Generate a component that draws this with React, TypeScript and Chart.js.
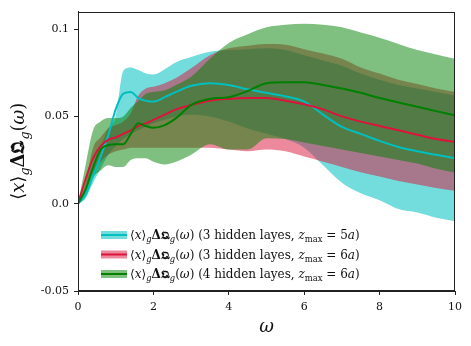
import { useEffect, useRef } from "react";
import { Chart, registerables } from "chart.js";
Chart.register(...registerables);

// omega grid
const omega = [0, 0.2, 0.4, 0.6, 0.8, 1.0, 1.2, 1.4, 1.6, 1.8, 2.0, 2.3, 2.6, 3.0, 3.5, 4.0, 4.5, 5.0, 5.5, 6.0, 6.5, 7.0, 7.5, 8.0, 8.5, 9.0, 9.5, 10];

// 3 hidden layers, zmax = 5a (cyan)
const cyanMean = [0, 0.005, 0.016, 0.027, 0.039, 0.054, 0.063, 0.064, 0.0605, 0.059, 0.0585, 0.061, 0.064, 0.0675, 0.069, 0.068, 0.0655, 0.0635, 0.0615, 0.0585, 0.051, 0.044, 0.04, 0.036, 0.0325, 0.03, 0.028, 0.026];
const cyanHigh = [0, 0.007, 0.02, 0.032, 0.043, 0.05, 0.076, 0.078, 0.0765, 0.0745, 0.074, 0.077, 0.081, 0.084, 0.087, 0.088, 0.0885, 0.089, 0.088, 0.085, 0.082, 0.079, 0.0745, 0.071, 0.068, 0.066, 0.064, 0.062];
const cyanLow = [0, 0.003, 0.012, 0.02, 0.028, 0.033, 0.037, 0.04, 0.042, 0.044, 0.046, 0.048, 0.05, 0.051, 0.05, 0.047, 0.043, 0.04, 0.037, 0.032, 0.022, 0.012, 0.006, 0.002, -0.003, -0.005, -0.008, -0.01];

// 3 hidden layers, zmax = 6a (crimson)
const redMean = [0, 0.014, 0.026, 0.033, 0.0365, 0.038, 0.04, 0.042, 0.0445, 0.046, 0.048, 0.051, 0.054, 0.0565, 0.059, 0.06, 0.0605, 0.0605, 0.059, 0.057, 0.054, 0.05, 0.047, 0.0445, 0.042, 0.0395, 0.037, 0.0354];
const redHigh = [0, 0.012, 0.032, 0.038, 0.043, 0.045, 0.047, 0.052, 0.062, 0.066, 0.067, 0.069, 0.072, 0.0775, 0.085, 0.089, 0.0905, 0.0915, 0.091, 0.0885, 0.086, 0.083, 0.078, 0.0745, 0.071, 0.0685, 0.066, 0.064];
const redLow = [0, 0.008, 0.018, 0.024, 0.028, 0.03, 0.031, 0.032, 0.032, 0.032, 0.032, 0.032, 0.032, 0.032, 0.032, 0.031, 0.03, 0.031, 0.03, 0.027, 0.024, 0.021, 0.018, 0.0155, 0.013, 0.011, 0.009, 0.0074];

// 4 hidden layers, zmax = 6a (green)
const greenMean = [0, 0.008, 0.021, 0.031, 0.0335, 0.034, 0.034, 0.04, 0.046, 0.0445, 0.0435, 0.045, 0.049, 0.0565, 0.06, 0.061, 0.0645, 0.069, 0.0695, 0.0695, 0.068, 0.066, 0.0635, 0.0605, 0.058, 0.0555, 0.053, 0.0506];
const greenHigh = [0, 0.022, 0.042, 0.047, 0.049, 0.049, 0.05, 0.055, 0.059, 0.063, 0.064, 0.065, 0.068, 0.0727, 0.083, 0.092, 0.097, 0.101, 0.1025, 0.103, 0.1025, 0.101, 0.098, 0.095, 0.0915, 0.088, 0.0855, 0.083];
const greenLow = [0, 0.006, 0.015, 0.019, 0.022, 0.021, 0.021, 0.025, 0.026, 0.026, 0.024, 0.0225, 0.024, 0.028, 0.034, 0.031, 0.031, 0.0375, 0.037, 0.035, 0.033, 0.031, 0.029, 0.027, 0.025, 0.023, 0.02, 0.0178];

const xTicks = [0, 2, 4, 6, 8, 10];
const xTickLabels = ["0", "2", "4", "6", "8", "10"];
const yTicks = [-0.05, 0, 0.05, 0.1];
const yTickLabels = ["-0.05", "0.0", "0.05", "0.1"];

const zmaxValues = ["5", "6", "6"];
const layerCounts = ["3", "3", "4"];

const FAMILY = "'DejaVu Serif', 'DejaVu Sans', serif";

type Seg = { t: string; f?: "i" | "b" | "r"; sub?: boolean };

function observableSegs(): Seg[] {
  return [
    { t: "\u27E8" },
    { t: "x", f: "i" },
    { t: "\u27E9" },
    { t: "g", f: "i", sub: true },
    { t: "\u0394", f: "b" },
    { t: "\u{1D57C}", f: "b" },
    { t: "g", f: "i", sub: true },
    { t: "(" },
    { t: "\u03C9", f: "i" },
    { t: ")" },
  ];
}

function legendSegs(i: number): Seg[] {
  return [
    ...observableSegs(),
    { t: ` (${layerCounts[i]} hidden layes, ` },
    { t: "z", f: "i" },
    { t: "max", sub: true },
    { t: ` = ${zmaxValues[i]}` },
    { t: "a", f: "i" },
    { t: ")" },
  ];
}

function setFont(ctx: CanvasRenderingContext2D, s: Seg, size: number) {
  const sz = s.sub ? size * 0.7 : size;
  const style = s.f === "i" ? "italic " : s.f === "b" ? "bold " : "";
  ctx.font = `${style}${sz}px ${FAMILY}`;
}

function measureRich(ctx: CanvasRenderingContext2D, segs: Seg[], size: number) {
  let w = 0;
  for (const s of segs) {
    setFont(ctx, s, size);
    w += ctx.measureText(s.t).width;
  }
  return w;
}

function drawRich(ctx: CanvasRenderingContext2D, segs: Seg[], x: number, y: number, size: number) {
  let cx = x;
  ctx.textBaseline = "alphabetic";
  ctx.textAlign = "left";
  for (const s of segs) {
    setFont(ctx, s, size);
    ctx.fillText(s.t, cx, s.sub ? y + size * 0.25 : y);
    cx += ctx.measureText(s.t).width;
  }
}

const lineColors = ["#00BFBF", "#DC143C", "#008000"];
const bandColors = ["rgba(0,191,191,0.55)", "rgba(220,20,60,0.5)", "rgba(0,128,0,0.5)"];

const decorPlugin = {
  id: "decor",
  afterDraw(chart: any) {
    const ctx: CanvasRenderingContext2D = chart.ctx;
    const a = chart.chartArea;
    ctx.save();
    // frame
    ctx.strokeStyle = "#222";
    ctx.lineWidth = 1;
    ctx.strokeRect(Math.round(a.left) + 0.5, Math.round(a.top) + 0.5, Math.round(a.right - a.left) - 1, Math.round(a.bottom - a.top) - 1);
    // legend
    for (let i = 0; i < 3; i++) {
      const cy = 235 + i * 19.5;
      ctx.fillStyle = bandColors[i];
      ctx.fillRect(101, cy - 4, 26, 8);
      ctx.strokeStyle = lineColors[i];
      ctx.lineWidth = 2;
      ctx.beginPath();
      ctx.moveTo(101, cy);
      ctx.lineTo(127, cy);
      ctx.stroke();
      ctx.fillStyle = "#111";
      drawRich(ctx, legendSegs(i), 130, cy + 4, 12);
    }
    // x title
    ctx.fillStyle = "#111";
    ctx.font = `italic 18px ${FAMILY}`;
    ctx.textAlign = "center";
    ctx.textBaseline = "alphabetic";
    ctx.fillText("\u03C9", (a.left + a.right) / 2, 332);
    // y title
    const segs = observableSegs();
    const size = 18;
    const w = measureRich(ctx, segs, size);
    ctx.translate(24, (a.top + a.bottom) / 2);
    ctx.rotate(-Math.PI / 2);
    drawRich(ctx, segs, -w / 2, 0, size);
    ctx.restore();
  },
};

export default function App() {
  const ref = useRef<HTMLCanvasElement>(null);
  useEffect(() => {
    if (!ref.current) return;
    const mk = (arr: number[]) => omega.map((x, i) => ({ x, y: arr[i] }));
    const bands = [
      [cyanHigh, cyanLow],
      [redHigh, redLow],
      [greenHigh, greenLow],
    ];
    const means = [cyanMean, redMean, greenMean];
    const datasets: any[] = [];
    bands.forEach((b, i) => {
      const order = 30 - i * 10;
      datasets.push({
        data: mk(b[0]),
        borderWidth: 0,
        pointRadius: 0,
        fill: "+1",
        backgroundColor: bandColors[i],
        borderColor: "transparent",
        cubicInterpolationMode: "monotone",
        order,
      });
      datasets.push({
        data: mk(b[1]),
        borderWidth: 0,
        pointRadius: 0,
        fill: false,
        borderColor: "transparent",
        cubicInterpolationMode: "monotone",
        order,
      });
    });
    means.forEach((m, i) => {
      datasets.push({
        data: mk(m),
        borderWidth: 2,
        pointRadius: 0,
        fill: false,
        borderColor: lineColors[i],
        cubicInterpolationMode: "monotone",
        order: 3 - i,
      });
    });
    const chart = new Chart(ref.current, {
      type: "line",
      data: { datasets },
      options: {
        animation: false,
        responsive: false,
        devicePixelRatio: 1,
        layout: { padding: { left: 0, top: 9, right: 16, bottom: 0 } },
        plugins: { legend: { display: false }, tooltip: { enabled: false } },
        scales: {
          x: {
            type: "linear",
            min: 0,
            max: 10,
            afterFit: (s: any) => {
              s.height = 55;
            },
            afterBuildTicks: (s: any) => {
              s.ticks = xTicks.map((v) => ({ value: v }));
            },
            grid: { drawOnChartArea: false, drawTicks: true, tickLength: 4, color: "#222" },
            border: { display: true, color: "#222" },
            ticks: {
              color: "#111",
              font: { family: FAMILY, size: 11 },
              padding: 6,
              maxRotation: 0,
              callback: (v: any) => {
                const i = xTicks.indexOf(Number(v));
                return i >= 0 ? xTickLabels[i] : "";
              },
            },
          },
          y: {
            type: "linear",
            min: -0.05,
            max: 0.11,
            afterFit: (s: any) => {
              s.width = 78;
            },
            afterBuildTicks: (s: any) => {
              s.ticks = yTicks.map((v) => ({ value: v }));
            },
            grid: { drawOnChartArea: false, drawTicks: true, tickLength: 4, color: "#222" },
            border: { display: true, color: "#222" },
            ticks: {
              color: "#111",
              font: { family: FAMILY, size: 11 },
              padding: 5,
              callback: (v: any) => {
                const i = yTicks.findIndex((t) => Math.abs(t - Number(v)) < 1e-9);
                return i >= 0 ? yTickLabels[i] : "";
              },
            },
          },
        },
      },
      plugins: [decorPlugin],
    });
    return () => chart.destroy();
  }, []);
  return (
    <div style={{ position: "absolute", left: 0, top: 0, width: 471, height: 346, background: "#fff" }}>
      <canvas ref={ref} width={471} height={346} />
    </div>
  );
}
